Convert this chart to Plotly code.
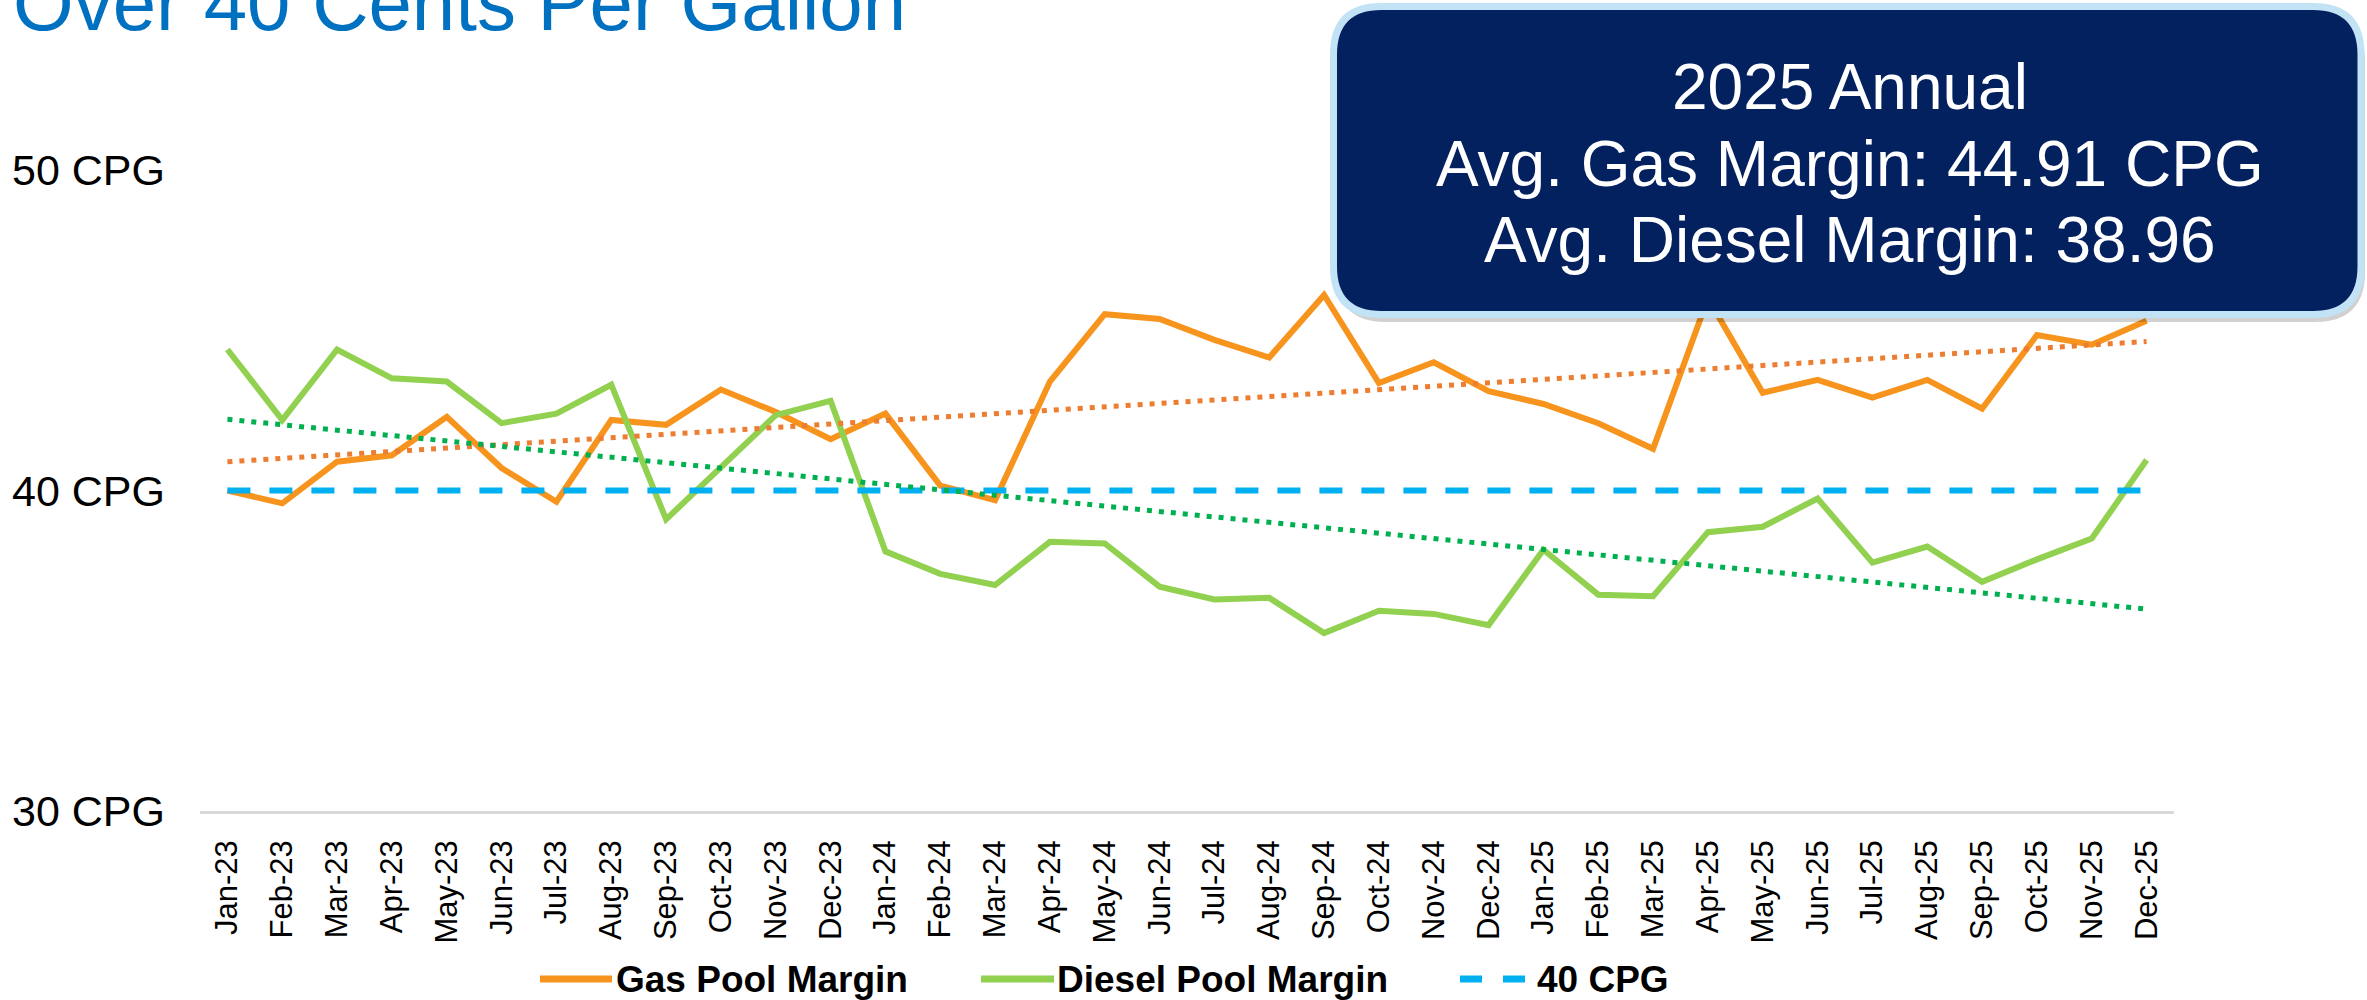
import numpy as np
import plotly.graph_objects as go

# ---------------- data ----------------
months = ["Jan-23", "Feb-23", "Mar-23", "Apr-23", "May-23", "Jun-23", "Jul-23", "Aug-23",
          "Sep-23", "Oct-23", "Nov-23", "Dec-23",
          "Jan-24", "Feb-24", "Mar-24", "Apr-24", "May-24", "Jun-24", "Jul-24", "Aug-24",
          "Sep-24", "Oct-24", "Nov-24", "Dec-24",
          "Jan-25", "Feb-25", "Mar-25", "Apr-25", "May-25", "Jun-25", "Jul-25", "Aug-25",
          "Sep-25", "Oct-25", "Nov-25", "Dec-25"]

gas_margin = [40.0, 39.6, 40.9, 41.1, 42.3, 40.7, 39.65, 42.2, 42.05, 43.15, 42.45, 41.6,
              42.4, 40.15, 39.7, 43.4, 45.5, 45.35, 44.7, 44.15, 46.1, 43.35, 44.0, 43.1,
              42.7, 42.1, 41.3, 46.0, 43.05, 43.45, 42.9, 43.45, 42.55, 44.85, 44.55, 45.3]

diesel_margin = [44.4, 42.2, 44.4, 43.5, 43.4, 42.1, 42.4, 43.3, 39.1, 40.75, 42.35, 42.8,
                 38.1, 37.4, 37.05, 38.4, 38.35, 37.0, 36.6, 36.65, 35.55, 36.25, 36.15, 35.8,
                 38.15, 36.75, 36.7, 38.7, 38.87, 39.75, 37.75, 38.25, 37.15, 37.85, 38.5, 40.95]

ref_40 = [40, 40, 40, 40, 40, 40, 40, 40, 40, 40, 40, 40,
          40, 40, 40, 40, 40, 40, 40, 40, 40, 40, 40, 40,
          40, 40, 40, 40, 40, 40, 40, 40, 40, 40, 40, 40]

y_tick_vals = [30, 40, 50]
y_tick_text = ["30 CPG", "40 CPG", "50 CPG"]

title_text = "Over 40 Cents Per Gallon"
box_lines = ["2025 Annual", "Avg. Gas Margin: 44.91 CPG", "Avg. Diesel Margin: 38.96"]
legend_names = ["Gas Pool Margin", "Diesel Pool Margin", "40 CPG"]

# ---------------- styles ----------------
FONT = "Liberation Sans, Arial, sans-serif"
C_GAS = "#F7941D"
C_DIESEL = "#92D050"
C_REF = "#00B0F0"
C_GAS_TREND = "#ED7D31"
C_DIESEL_TREND = "#00B050"
C_TITLE = "#0070C0"
C_BOX = "#03205F"
C_BOX_EDGE = "#C2E3F5"

W, H = 2367, 1000
L, R_EDGE, T, B_EDGE = 200, 2174, 170, 811


def px(x):
    return (x - L) / (R_EDGE - L)


def py(y):
    return (B_EDGE - y) / (B_EDGE - T)


# linear trendlines computed from the series (like Excel trendlines)
idx = np.arange(len(months))
gas_trend = np.polyval(np.polyfit(idx, gas_margin, 1), idx)
diesel_trend = np.polyval(np.polyfit(idx, diesel_margin, 1), idx)

fig = go.Figure()
fig.add_trace(go.Scatter(x=months, y=gas_margin, mode="lines", name=legend_names[0],
                         line=dict(color=C_GAS, width=6), showlegend=False))
fig.add_trace(go.Scatter(x=months, y=diesel_margin, mode="lines", name=legend_names[1],
                         line=dict(color=C_DIESEL, width=6), showlegend=False))
fig.add_trace(go.Scatter(x=months, y=ref_40, mode="lines", name=legend_names[2],
                         line=dict(color=C_REF, width=6, dash="23px,19px"), showlegend=False))
fig.add_trace(go.Scatter(x=months, y=gas_trend, mode="lines", name="Gas trend",
                         line=dict(color=C_GAS_TREND, width=5, dash="5px,7px"), showlegend=False))
fig.add_trace(go.Scatter(x=months, y=diesel_trend, mode="lines", name="Diesel trend",
                         line=dict(color=C_DIESEL_TREND, width=5, dash="5px,7px"), showlegend=False))


def rounded_rect(x0, y0, x1, y1, r):
    # pixel coords -> paper path
    pts = [
        ("M", [(x0 + r, y0)]),
        ("L", [(x1 - r, y0)]),
        ("Q", [(x1, y0), (x1, y0 + r)]),
        ("L", [(x1, y1 - r)]),
        ("Q", [(x1, y1), (x1 - r, y1)]),
        ("L", [(x0 + r, y1)]),
        ("Q", [(x0, y1), (x0, y1 - r)]),
        ("L", [(x0, y0 + r)]),
        ("Q", [(x0, y0), (x0 + r, y0)]),
    ]
    s = ""
    for cmd, ps in pts:
        s += cmd + " " + " ".join(f"{px(a):.5f},{py(b):.5f}" for a, b in ps) + " "
    return s + "Z"


shapes = []
# shadow
shapes.append(dict(type="path", xref="paper", yref="paper", layer="above",
                   path=rounded_rect(1336, 12, 2365, 322, 50),
                   fillcolor="rgba(0,0,0,0.18)", line=dict(width=0)))
# box
shapes.append(dict(type="path", xref="paper", yref="paper", layer="above",
                   path=rounded_rect(1333.5, 6.5, 2361, 314.5, 48),
                   fillcolor=C_BOX, line=dict(color=C_BOX_EDGE, width=7)))

# legend samples
LEG_Y = 979
shapes.append(dict(type="line", xref="paper", yref="paper", x0=px(540), x1=px(612),
                   y0=py(LEG_Y), y1=py(LEG_Y), line=dict(color=C_GAS, width=7)))
shapes.append(dict(type="line", xref="paper", yref="paper", x0=px(981), x1=px(1054),
                   y0=py(LEG_Y), y1=py(LEG_Y), line=dict(color=C_DIESEL, width=7)))
shapes.append(dict(type="line", xref="paper", yref="paper", x0=px(1460), x1=px(1526),
                   y0=py(LEG_Y), y1=py(LEG_Y), line=dict(color=C_REF, width=7, dash="22px,21px")))

annotations = []
annotations.append(dict(text=title_text, xref="paper", yref="paper", x=px(11), y=py(2.5),
                        xanchor="left", yanchor="middle", showarrow=False,
                        font=dict(family=FONT, size=78, color=C_TITLE)))
for line, yc in zip(box_lines, [86.5, 163.5, 240]):
    annotations.append(dict(text=line, xref="paper", yref="paper", x=px(1850), y=py(yc),
                            xanchor="center", yanchor="middle", showarrow=False,
                            font=dict(family=FONT, size=64, color="white")))
for name, xl in zip(legend_names, [614, 1055, 1535]):
    annotations.append(dict(text="<b>" + name + "</b>", xref="paper", yref="paper",
                            x=px(xl), y=py(LEG_Y), xanchor="left", yanchor="middle",
                            showarrow=False, font=dict(family=FONT, size=37, color="black")))

fig.update_layout(
    width=W, height=H,
    margin=dict(l=L, r=W - R_EDGE, t=T, b=H - B_EDGE, pad=0),
    paper_bgcolor="white", plot_bgcolor="white",
    showlegend=False,
    hovermode=False,
    shapes=shapes,
    annotations=annotations,
    font=dict(family=FONT, color="black"),
    xaxis=dict(type="category", range=[-0.5, len(months) - 0.5], showgrid=False,
               zeroline=False, showline=True, linecolor="#D9D9D9", linewidth=2.5,
               ticks="", tickangle=-90, tickfont=dict(family=FONT, size=31, color="black"),
               ticklabelstandoff=14),
    yaxis=dict(range=[30, 50], showgrid=False, zeroline=False, showline=False,
               tickvals=y_tick_vals, ticktext=y_tick_text, ticks="",
               tickfont=dict(family=FONT, size=43, color="black"),
               ticklabelstandoff=34),
)

fig.write_html("out.html", config={"displayModeBar": False},
               post_script="document.body.style.margin='0';document.body.style.overflow='hidden';")
